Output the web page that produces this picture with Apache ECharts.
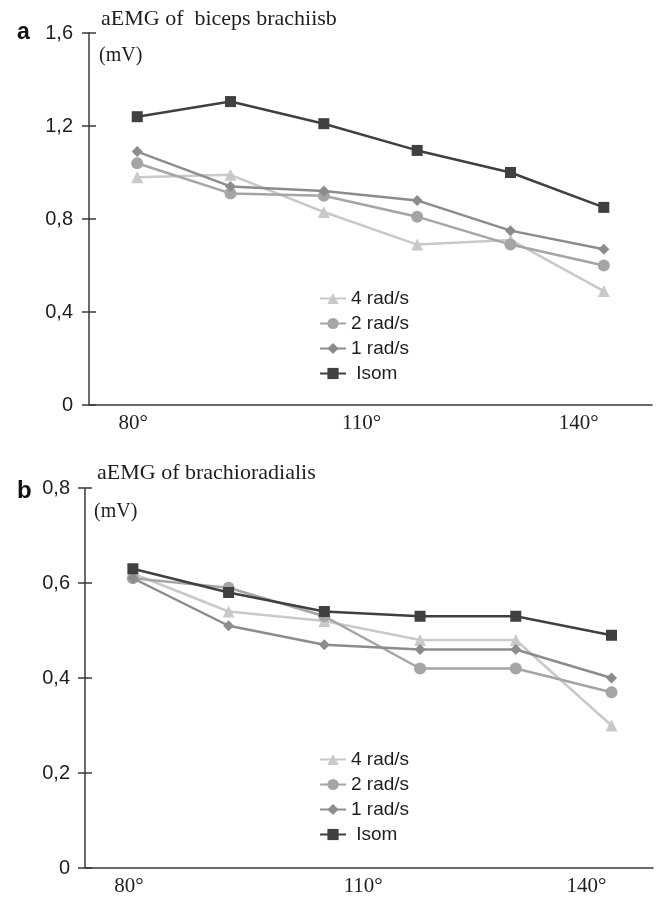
<!DOCTYPE html>
<html>
<head>
<meta charset="utf-8">
<script src="https://cdn.jsdelivr.net/npm/echarts@6/dist/echarts.min.js"></script>
<style>
  html, body { margin: 0; padding: 0; background: #fff; }
  #chart { width: 665px; height: 897px; }
</style>
</head>
<body>
<div id="chart"></div>
<script>
// joint angle (deg) for the six measurement points
const angles = [80, 92, 104, 116, 128, 140]
const xTickLabels = [80, 110, 140]
const seriesNames = ['4 rad/s', '2 rad/s', '1 rad/s', 'Isom']

// panel a: aEMG of biceps brachii (mV)
const bicepsFast = [0.98, 0.99, 0.83, 0.69, 0.71, 0.49]
const bicepsMid = [1.04, 0.91, 0.90, 0.81, 0.69, 0.60]
const bicepsSlow = [1.09, 0.94, 0.92, 0.88, 0.75, 0.67]
const bicepsIsom = [1.24, 1.305, 1.21, 1.095, 1.00, 0.85]

// panel b: aEMG of brachioradialis (mV)
const brachioFast = [0.62, 0.54, 0.52, 0.48, 0.48, 0.30]
const brachioMid = [0.61, 0.59, 0.53, 0.42, 0.42, 0.37]
const brachioSlow = [0.61, 0.51, 0.47, 0.46, 0.46, 0.40]
const brachioIsom = [0.63, 0.58, 0.54, 0.53, 0.53, 0.49]

const SANS = 'Liberation Sans, Arial, sans-serif'
const SERIF = 'Liberation Serif, Times New Roman, serif'
const AXIS = '#3a3a3a'
const TXT = '#1e1e1e'

const looks = [
  { color: '#c9c9c9', symbol: 'triangle', size: 12 },
  { color: '#a5a5a5', symbol: 'circle', size: 12 },
  { color: '#8c8c8c', symbol: 'diamond', size: 11 },
  { color: '#404040', symbol: 'rect', size: 11 },
]

const pair = (ys) => angles.map((a, i) => [a, ys[i]])
const fmtY = v => v === 0 ? '0' : v.toFixed(1).replace('.', ',')

function xAxisFor(grid, min, max) {
  return {
    type: 'value', gridIndex: grid, min, max,
    axisLine: { lineStyle: { color: AXIS, width: 1.5 } },
    axisTick: { show: false },
    splitLine: { show: false },
    axisLabel: {
      customValues: xTickLabels,
      margin: 8,
      formatter: v => {
        if (v === 110) return '{m|110°}'
        if (v === 140) return '{r|140°}'
        return '{l|' + v + '°}'
      },
      rich: {
        l: { fontFamily: SERIF, fontSize: 21, color: TXT, padding: [0, 8, 0, 0] },
        m: { fontFamily: SERIF, fontSize: 21, color: TXT, padding: [0, 18, 0, 0] },
        r: { fontFamily: SERIF, fontSize: 21, color: TXT, padding: [0, 50, 0, 0] },
      },
    },
  }
}

function yAxesFor(grid, max, step, margin) {
  return [
    {
      type: 'value', gridIndex: grid, min: 0, max, interval: step, position: 'left',
      axisLine: { show: true, lineStyle: { color: AXIS, width: 1.5 } },
      axisTick: { show: true, length: 7, lineStyle: { color: AXIS, width: 1.5 } },
      splitLine: { show: false },
      axisLabel: { margin, fontFamily: SANS, fontSize: 20, color: TXT, formatter: fmtY },
    },
    {
      type: 'value', gridIndex: grid, min: 0, max, interval: step, position: 'left',
      axisLine: { show: false },
      axisTick: { show: true, inside: true, length: 7, lineStyle: { color: AXIS, width: 1.5 } },
      splitLine: { show: false },
      axisLabel: { show: false },
    },
  ]
}

function lines(grid, yIdx, sets) {
  return sets.map((ys, i) => ({
    name: seriesNames[i],
    type: 'line',
    xAxisIndex: grid, yAxisIndex: yIdx,
    data: pair(ys),
    symbol: looks[i].symbol,
    symbolSize: looks[i].size,
    showSymbol: true,
    lineStyle: { color: looks[i].color, width: 2.5 },
    itemStyle: { color: looks[i].color },
    animation: false,
    z: 2 + i,
  }))
}

function legendAt(top) {
  return {
    data: seriesNames,
    orient: 'vertical',
    left: 314, top,
    itemWidth: 26, itemHeight: 14, itemGap: 6,
    selectedMode: false,
    textStyle: { fontFamily: SANS, fontSize: 19, color: TXT },
    formatter: n => n === 'Isom' ? ' Isom' : n,
  }
}

const chart = echarts.init(document.getElementById('chart'), null, { renderer: 'canvas' })
chart.setOption({
  backgroundColor: '#fff',
  animation: false,
  grid: [
    { left: 89, top: 33, width: 563, height: 372 },
    { left: 85, top: 488, width: 568, height: 381 },
  ],
  xAxis: [xAxisFor(0, 73.8, 146.2), xAxisFor(1, 74, 145.2)],
  yAxis: [...yAxesFor(0, 1.6, 0.4, 16), ...yAxesFor(1, 0.8, 0.2, 15)],
  legend: [legendAt(284), legendAt(745)],
  series: [
    ...lines(0, 0, [bicepsFast, bicepsMid, bicepsSlow, bicepsIsom]),
    ...lines(1, 2, [brachioFast, brachioMid, brachioSlow, brachioIsom]),
  ],
  graphic: [
    { type: 'text', left: 17, top: 21, style: { text: 'a', font: 'bold 23px ' + SANS, fill: '#111' } },
    { type: 'text', left: 17, top: 479, style: { text: 'b', font: 'bold 24px ' + SANS, fill: '#111' } },
    { type: 'text', left: 101, top: 8, style: { text: 'aEMG of  biceps brachiisb', font: '22px ' + SERIF, fill: TXT } },
    { type: 'text', left: 99, top: 46, style: { text: '(mV)', font: '20px ' + SERIF, fill: TXT } },
    { type: 'text', left: 97, top: 462, style: { text: 'aEMG of brachioradialis', font: '22px ' + SERIF, fill: TXT } },
    { type: 'text', left: 94, top: 502, style: { text: '(mV)', font: '20px ' + SERIF, fill: TXT } },
  ],
})
</script>
</body>
</html>
